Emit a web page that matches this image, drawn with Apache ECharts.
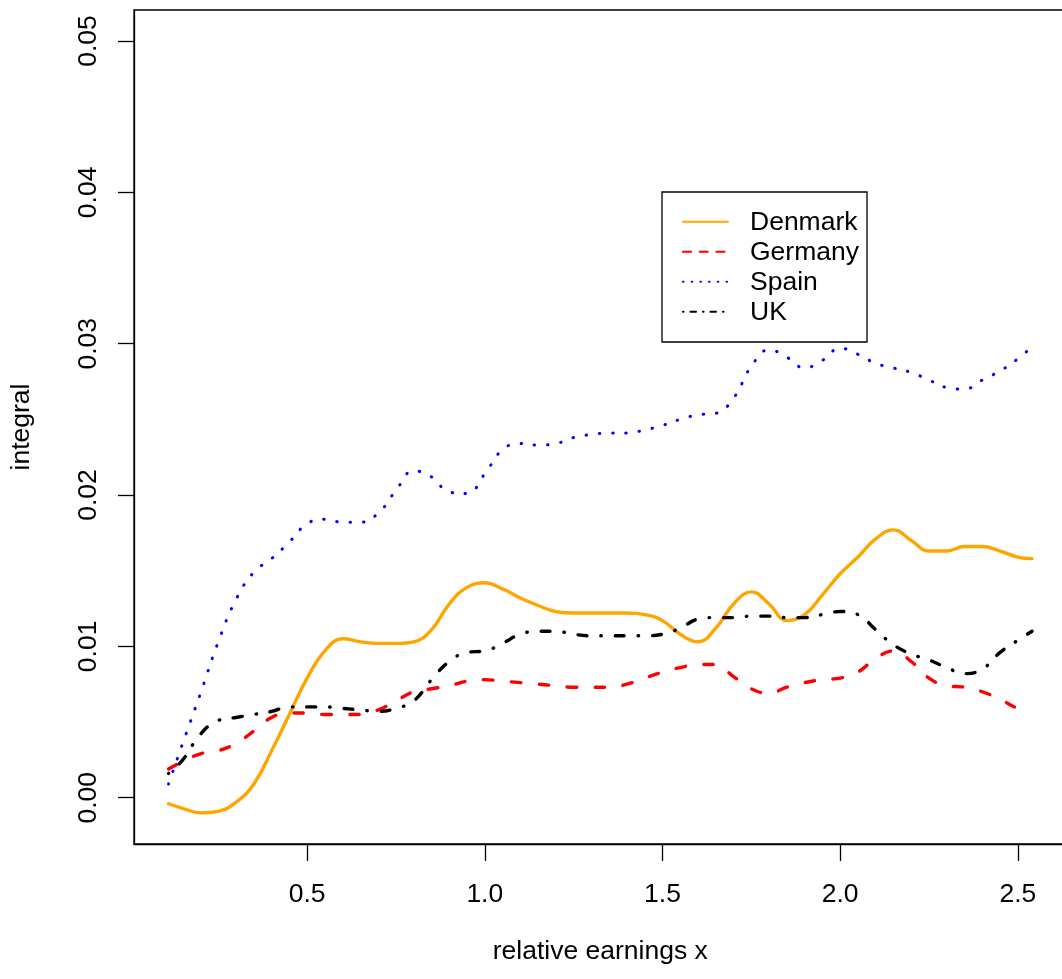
<!DOCTYPE html>
<html>
<head>
<meta charset="utf-8">
<script src="https://cdn.jsdelivr.net/npm/echarts@6/dist/echarts.min.js"></script>
<style>
  html, body { margin: 0; padding: 0; background: #ffffff; }
  #chart { width: 1062px; height: 979px; }
</style>
</head>
<body>
<div id="chart"></div>
<script>
// Relative earnings grid shared by all four curves
const xs = [0.11, 0.15, 0.20, 0.25, 0.30, 0.35, 0.40, 0.45, 0.50, 0.55,
            0.60, 0.65, 0.70, 0.75, 0.80, 0.85, 0.90, 0.95, 1.00, 1.05,
            1.10, 1.15, 1.20, 1.25, 1.30, 1.35, 1.40, 1.45, 1.50, 1.55,
            1.60, 1.65, 1.70, 1.75, 1.80, 1.85, 1.90, 1.95, 2.00, 2.05,
            2.10, 2.15, 2.20, 2.25, 2.30, 2.35, 2.40, 2.45, 2.50, 2.54];

const denmark = [-0.0004, -0.0007, -0.0010, -0.0009, -0.0003, 0.0009, 0.0031, 0.0055, 0.0079, 0.0097,
                 0.0105, 0.0103, 0.0102, 0.0102, 0.0103, 0.0111, 0.0128, 0.0139, 0.0142, 0.0138,
                 0.0132, 0.0127, 0.0123, 0.0122, 0.0122, 0.0122, 0.0122, 0.0121, 0.0117, 0.0108,
                 0.0103, 0.0112, 0.0128, 0.0136, 0.0128, 0.0117, 0.0121, 0.0134, 0.0148, 0.0159,
                 0.0171, 0.0177, 0.0170, 0.0163, 0.0163, 0.0166, 0.0166, 0.0163, 0.0159, 0.0158];

const germany = [0.0019, 0.0024, 0.0029, 0.0031, 0.0036, 0.0044, 0.0053, 0.0056, 0.0056, 0.0055,
                 0.0055, 0.0055, 0.0058, 0.0064, 0.0070, 0.0072, 0.0074, 0.0077, 0.0078, 0.0077,
                 0.0076, 0.0075, 0.0074, 0.0073, 0.0073, 0.0073, 0.0075, 0.0079, 0.0083, 0.0086,
                 0.0088, 0.0088, 0.0080, 0.0072, 0.0069, 0.0073, 0.0076, 0.0078, 0.0079, 0.0083,
                 0.0092, 0.0097, 0.0090, 0.0079, 0.0074, 0.0073, 0.0070, 0.0065, 0.0059, 0.0057];

const spain = [0.0009, 0.0036, 0.0069, 0.0103, 0.0131, 0.0149, 0.0158, 0.0169, 0.0181, 0.0184,
               0.0182, 0.0182, 0.0188, 0.0203, 0.0216, 0.0212, 0.0202, 0.0201, 0.0214, 0.0230,
               0.0234, 0.0233, 0.0234, 0.0238, 0.0240, 0.0241, 0.0241, 0.0243, 0.0246, 0.0250,
               0.0253, 0.0254, 0.0264, 0.0285, 0.0296, 0.0291, 0.0284, 0.0289, 0.0297, 0.0293,
               0.0287, 0.0284, 0.0281, 0.0276, 0.0271, 0.0270, 0.0276, 0.0282, 0.0290, 0.0298];

const uk = [0.0016, 0.0025, 0.0042, 0.0051, 0.0053, 0.0055, 0.0057, 0.0060, 0.0060, 0.0060,
            0.0059, 0.0058, 0.0057, 0.0059, 0.0064, 0.0078, 0.0090, 0.0096, 0.0097, 0.0102,
            0.0108, 0.0110, 0.0110, 0.0108, 0.0107, 0.0107, 0.0107, 0.0107, 0.0108, 0.0112,
            0.0118, 0.0119, 0.0119, 0.0120, 0.0120, 0.0119, 0.0119, 0.0121, 0.0123, 0.0121,
            0.0111, 0.0101, 0.0095, 0.0091, 0.0086, 0.0082, 0.0085, 0.0096, 0.0104, 0.0110];

const countries = ['Denmark', 'Germany', 'Spain', 'UK'];
const xTicks = [0.5, 1.0, 1.5, 2.0, 2.5];
const yTicks = [0.00, 0.01, 0.02, 0.03, 0.04, 0.05];

const FONT = '"Liberation Sans", Arial, Helvetica, sans-serif';
const FS = 26.5;

// line appearance per country: colour, width, dash pattern
const looks = [
  { color: '#FFA500', width: 3.4, dash: 'solid',              legendDash: null },
  { color: '#FF0000', width: 3.4, dash: [9.5, 18.5],           legendDash: [8, 8.7] },
  { color: '#0000FF', width: 3.0, dash: [0.5, 12.8],           legendDash: [0.5, 8.2] },
  { color: '#000000', width: 3.4, dash: [0.5, 13.9, 9, 13.9],  legendDash: [0.5, 7, 5.5, 7] }
];

const values = [denmark, germany, spain, uk];

const series = countries.map((name, i) => ({
  name: name,
  type: 'line',
  data: xs.map((x, k) => [x, values[i][k]]),
  showSymbol: false,
  smooth: 0.45,
  silent: true,
  lineStyle: {
    color: looks[i].color,
    width: looks[i].width,
    type: looks[i].dash,
    cap: 'round',
    join: 'round'
  }
}));

// legend box drawn with plain shapes
const legX = 662, legY = 192, legW = 205, legH = 150;
const legendEls = [{
  type: 'rect',
  shape: { x: legX, y: legY, width: legW, height: legH },
  style: { fill: '#ffffff', stroke: '#000000', lineWidth: 1.3 },
  z: 100
}];
countries.forEach((name, i) => {
  const yy = 221.7 + i * 30;
  legendEls.push({
    type: 'line',
    shape: { x1: 683, y1: yy, x2: 728, y2: yy },
    style: {
      stroke: looks[i].color,
      lineWidth: 2.1,
      lineDash: looks[i].legendDash,
      lineCap: 'round'
    },
    z: 101
  });
  legendEls.push({
    type: 'text',
    x: 750,
    y: yy + 0.5,
    style: {
      text: name,
      font: FS + 'px ' + FONT,
      fill: '#000000',
      verticalAlign: 'middle',
      align: 'left'
    },
    z: 101
  });
});

const chart = echarts.init(document.getElementById('chart'), null, { renderer: 'canvas' });
chart.setOption({
  animation: false,
  backgroundColor: '#ffffff',
  grid: {
    left: 134, top: 10, width: 932.5, height: 834,
    show: true, borderColor: '#000000', borderWidth: 1.3,
    containLabel: false,
    outerBoundsMode: 'none'
  },
  xAxis: {
    type: 'value',
    min: 0.0128, max: 2.637,
    name: 'relative earnings x',
    nameLocation: 'middle',
    nameGap: 94,
    nameTextStyle: { fontFamily: FONT, fontSize: FS, color: '#000000' },
    axisLine: { show: true, onZero: false, lineStyle: { color: '#000000', width: 1.3 } },
    axisTick: { show: true, length: 17, lineStyle: { color: '#000000', width: 1.3 }, customValues: xTicks },
    axisLabel: {
      customValues: xTicks,
      formatter: v => v.toFixed(1),
      fontFamily: FONT, fontSize: FS, color: '#000000', margin: 37
    },
    splitLine: { show: false }
  },
  yAxis: {
    type: 'value',
    min: -0.00306, max: 0.05205,
    name: 'integral',
    nameLocation: 'middle',
    nameGap: 99,
    nameRotate: 90,
    nameTextStyle: { fontFamily: FONT, fontSize: FS, color: '#000000' },
    axisLine: { show: true, onZero: false, lineStyle: { color: '#000000', width: 1.3 } },
    axisTick: { show: true, length: 16, lineStyle: { color: '#000000', width: 1.3 }, customValues: yTicks },
    axisLabel: {
      customValues: yTicks,
      rotate: 90,
      formatter: v => v.toFixed(2),
      fontFamily: FONT, fontSize: FS, color: '#000000', margin: 32
    },
    splitLine: { show: false }
  },
  series: series,
  graphic: legendEls
});
</script>
</body>
</html>
